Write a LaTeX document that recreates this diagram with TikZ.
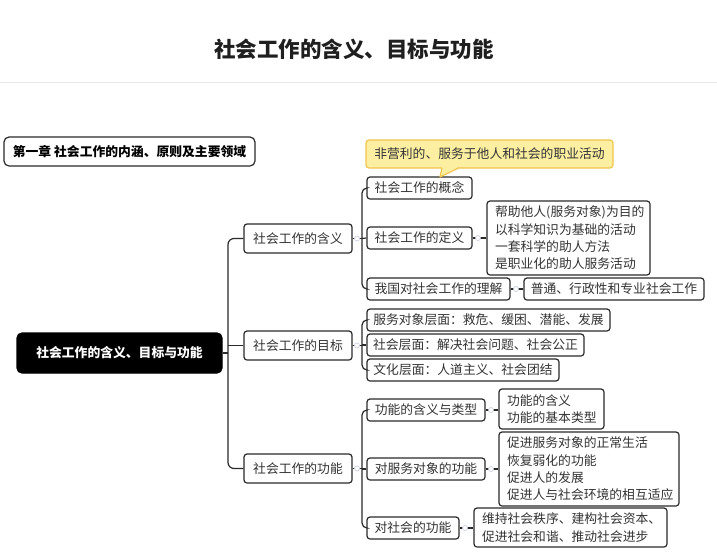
\documentclass[tikz,border=0pt]{standalone}
\usepackage{fontspec}
\setmainfont{Noto Sans CJK SC}
\definecolor{txt}{HTML}{333333}
\definecolor{edge}{HTML}{2B2B2B}
\definecolor{calloutfill}{HTML}{FCEFA1}
\definecolor{calloutdraw}{HTML}{F0C64E}
\definecolor{markc}{HTML}{C5CBDD}
\definecolor{rulec}{HTML}{E8E8E8}
\tikzset{
  box/.style={draw=edge, line width=1.2pt, rounded corners=3pt, fill=white, text=txt,
    font=\fontsize{12.8}{17.3}\selectfont, inner xsep=0pt, inner ysep=0pt, minimum height=22pt},
  multi/.style={box, align=left, inner xsep=8pt},
  conn/.style={draw=edge, line width=1.2pt},
  mk/.style={circle, draw=markc, fill=white, line width=0.6pt, inner sep=0pt, minimum size=5pt},
}
\begin{document}
\begin{tikzpicture}[x=1pt,y=-1pt]
\useasboundingbox (0,0) rectangle (717,555);
\fill[white] (0,0) rectangle (717,555);
% title
\node[font=\fontsize{21.5}{24}\selectfont\bfseries, text=black!88] (title) at (354,49.5) {社会工作的含义、目标与功能};
\draw[rulec, line width=1pt] (0,82) -- (717,82);
% chapter box
\node[box, rounded corners=5pt, font=\fontsize{12.8}{15}\selectfont\bfseries, text=black, minimum width=251pt, minimum height=29pt] (chap) at (129.5,151.5) {第一章 社会工作的内涵、原则及主要领域};
% root
\node[box, fill=black, draw=black, rounded corners=5pt, text=white, font=\fontsize{12.8}{15}\selectfont\bfseries, minimum width=205pt, minimum height=40pt] (root) at (119.5,353) {社会工作的含义、目标与功能};
% level 1
\node[box, minimum width=108pt, minimum height=29pt] (hanyi) at (298,238.5) {社会工作的含义};
\node[box, minimum width=108pt, minimum height=29pt] (mubiao) at (298,345.5) {社会工作的目标};
\node[box, minimum width=108pt, minimum height=29pt] (gongneng) at (298,468.5) {社会工作的功能};
% level 2
\node[box, minimum width=105pt] (gainian) at (419.5,188) {社会工作的概念};
\node[box, minimum width=105pt] (dingyi) at (419.5,238) {社会工作的定义};
\node[box, minimum width=143pt] (lijie) at (438.5,289) {我国对社会工作的理解};
\node[box, minimum width=243pt] (fuwu) at (488.5,320) {服务对象层面：救危、缓困、潜能、发展};
\node[box, minimum width=217pt] (shehui) at (475.5,345) {社会层面：解决社会问题、社会公正};
\node[box, minimum width=192pt] (wenhua) at (463,370) {文化层面：人道主义、社会团结};
\node[box, minimum width=118pt] (hanyilx) at (426,410) {功能的含义与类型};
\node[box, minimum width=118pt] (duifuwu) at (426,469) {对服务对象的功能};
\node[box, minimum width=92pt] (duishehui) at (413,528) {对社会的功能};
% level 3
\node[multi, text width=147pt, minimum height=74pt] (dydetail) at (568.5,238) {帮助他人(服务对象)为目的\\以科学知识为基础的活动\\一套科学的助人方法\\是职业化的助人服务活动};
\node[box, minimum width=180pt] (putong) at (614,289) {普通、行政性和专业社会工作};
\node[multi, text width=89pt, minimum height=40pt] (gndetail) at (551.5,409) {功能的含义\\功能的基本类型};
\node[multi, text width=164pt, minimum height=74pt] (fwdetail) at (589,469) {促进服务对象的正常生活\\恢复弱化的功能\\促进人的发展\\促进人与社会环境的相互适应};
\node[multi, text width=177pt, minimum height=39pt] (shdetail) at (570.5,527.5) {维持社会秩序、建构社会资本、\\促进社会和谐、推动社会进步};
% callout
\node[box, fill=calloutfill, draw=calloutdraw, minimum width=247pt, minimum height=28pt] (callout) at (489.5,154) {非营利的、服务于他人和社会的职业活动};
\fill[calloutfill] (442,166.6) -- (440,177) -- (459,166.6) -- cycle;
\draw[calloutdraw, line width=1.2pt, line join=round] (442,167.8) -- (440,177) -- (459,167.8);
% trunk coordinates
\coordinate (t0) at (228,353);
\coordinate (t1) at (362,238.5);
\coordinate (t2) at (362,345.5);
\coordinate (t3) at (362,468.5);
% connectors level 0 -> 1
\draw[conn] (root.east) -- (t0);
\draw[conn, rounded corners=6pt] (hanyi.west) -- (228,238.5) -- (228,468.5) -- (gongneng.west);
\draw[conn] (228,345.5) -- (mubiao.west);
% level 1 -> 2
\draw[conn] (hanyi.east) -- (t1);
\draw[conn, rounded corners=5pt] (gainian.west) -- (362,188) -- (362,289) -- (lijie.west);
\draw[conn] (t1) -- (dingyi.west);
\draw[conn] (mubiao.east) -- (t2);
\draw[conn, rounded corners=5pt] (fuwu.west) -- (362,320) -- (362,370) -- (wenhua.west);
\draw[conn] (362,345) -- (shehui.west);
\draw[conn] (gongneng.east) -- (t3);
\draw[conn, rounded corners=5pt] (hanyilx.west) -- (362,410) -- (362,528) -- (duishehui.west);
\draw[conn] (362,469) -- (duifuwu.west);
% level 2 -> 3
\draw[conn] (dingyi.east) -- (dydetail.west);
\draw[conn] (lijie.east) -- (putong.west);
\draw[conn] (hanyilx.east) -- (hanyilx.east -| gndetail.west);
\draw[conn] (duifuwu.east) -- (fwdetail.west);
\draw[conn] (duishehui.east) -- (duishehui.east -| shdetail.west);
% collapse markers
\node[mk] (m1) at (357,238.5) {};
\node[mk] (m2) at (357,345.5) {};
\node[mk] (m3) at (357,468.5) {};
\node[mk] (m4) at (478,238) {};
\node[mk] (m5) at (516,289) {};
\node[mk] (m6) at (491,410) {};
\node[mk] (m7) at (491,469) {};
\node[mk] (m8) at (465,528) {};
\end{tikzpicture}
\end{document}
